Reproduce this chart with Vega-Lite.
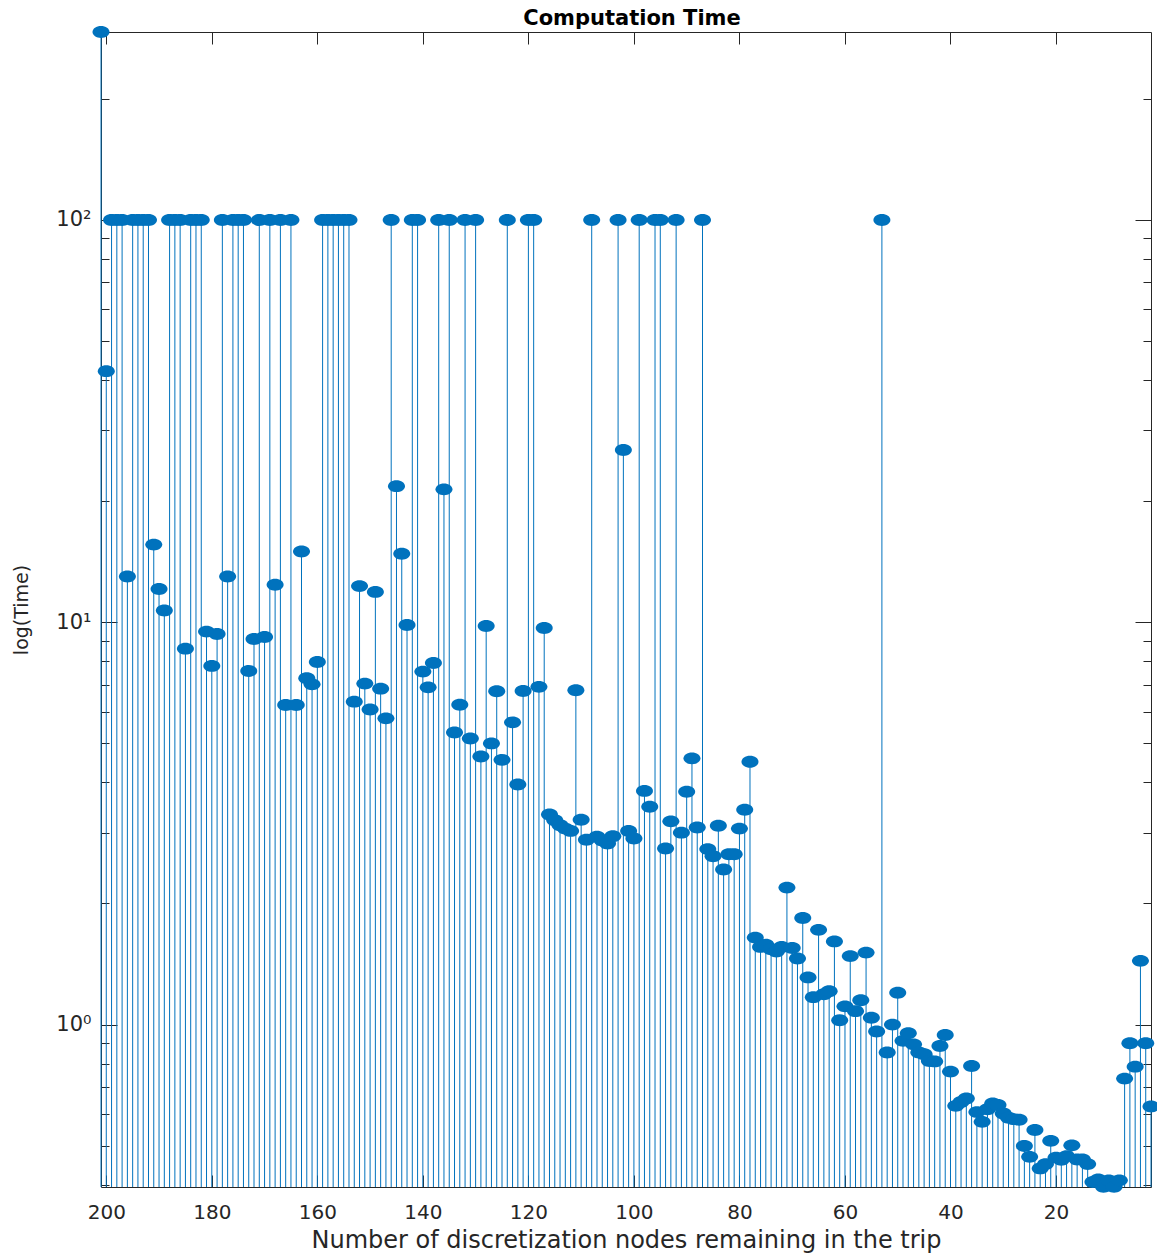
{
 "$schema": "https://vega.github.io/schema/vega-lite/v6.json",
 "width": 1050,
 "height": 1155,
 "autosize": "none",
 "padding": {"left": 101, "top": 32, "right": 6, "bottom": 69},
 "background": "white",
 "title": {"text": "Computation Time", "font": "DejaVu Sans", "fontSize": 21, "fontWeight": "bold", "color": "#000000", "offset": 6, "dy": 9, "anchor": "middle", "frame": "group", "dx": 6},
 "config": {
  "view": {"stroke": null},
  "axis": {"grid": false, "domainColor": "#262626", "domainWidth": 1, "tickColor": "#262626", "tickWidth": 1, "labelColor": "#262626", "titleColor": "#262626", "labelFont": "DejaVu Sans", "titleFont": "DejaVu Sans", "titleFontWeight": "normal", "labelFlush": false}
 },
 "data": {"values": [
  {"n":201,"t":293.3},{"n":200,"t":42.1},{"n":199,"t":100},{"n":198,"t":100},{"n":197,"t":100},{"n":196,"t":13.0},{"n":195,"t":100},{"n":194,"t":100},{"n":193,"t":100},{"n":192,"t":100},
  {"n":191,"t":15.6},{"n":190,"t":12.1},{"n":189,"t":10.7},{"n":188,"t":100},{"n":187,"t":100},{"n":186,"t":100},{"n":185,"t":8.6},{"n":184,"t":100},{"n":183,"t":100},{"n":182,"t":100},
  {"n":181,"t":9.48},{"n":180,"t":7.79},{"n":179,"t":9.35},{"n":178,"t":100},{"n":177,"t":13.0},{"n":176,"t":100},{"n":175,"t":100},{"n":174,"t":100},{"n":173,"t":7.57},{"n":172,"t":9.09},
  {"n":171,"t":100},{"n":170,"t":9.19},{"n":169,"t":100},{"n":168,"t":12.4},{"n":167,"t":100},{"n":166,"t":6.23},{"n":165,"t":100},{"n":164,"t":6.23},{"n":163,"t":15.0},{"n":162,"t":7.26},
  {"n":161,"t":7.01},{"n":160,"t":7.97},{"n":159,"t":100},{"n":158,"t":100},{"n":157,"t":100},{"n":156,"t":100},{"n":155,"t":100},{"n":154,"t":100},{"n":153,"t":6.35},{"n":152,"t":12.3},
  {"n":151,"t":7.04},{"n":150,"t":6.07},{"n":149,"t":11.9},{"n":148,"t":6.84},{"n":147,"t":5.77},{"n":146,"t":100},{"n":145,"t":21.8},{"n":144,"t":14.8},{"n":143,"t":9.85},{"n":142,"t":100},
  {"n":141,"t":100},{"n":140,"t":7.54},{"n":139,"t":6.89},{"n":138,"t":7.92},{"n":137,"t":100},{"n":136,"t":21.4},{"n":135,"t":100},{"n":134,"t":5.32},{"n":133,"t":6.24},{"n":132,"t":100},
  {"n":131,"t":5.14},{"n":130,"t":100},{"n":129,"t":4.64},{"n":128,"t":9.79},{"n":127,"t":5.0},{"n":126,"t":6.74},{"n":125,"t":4.55},{"n":124,"t":100},{"n":123,"t":5.64},{"n":122,"t":3.95},
  {"n":121,"t":6.75},{"n":120,"t":100},{"n":119,"t":100},{"n":118,"t":6.91},{"n":117,"t":9.68},{"n":116,"t":3.33},{"n":115,"t":3.22},{"n":114,"t":3.13},{"n":113,"t":3.07},{"n":112,"t":3.03},
  {"n":111,"t":6.78},{"n":110,"t":3.23},{"n":109,"t":2.88},{"n":108,"t":100},{"n":107,"t":2.93},{"n":106,"t":2.87},{"n":105,"t":2.82},{"n":104,"t":2.94},{"n":103,"t":100},{"n":102,"t":26.8},
  {"n":101,"t":3.03},{"n":100,"t":2.9},{"n":99,"t":100},{"n":98,"t":3.81},{"n":97,"t":3.48},{"n":96,"t":100},{"n":95,"t":100},{"n":94,"t":2.74},{"n":93,"t":3.2},{"n":92,"t":100},
  {"n":91,"t":3.0},{"n":90,"t":3.79},{"n":89,"t":4.59},{"n":88,"t":3.09},{"n":87,"t":100},{"n":86,"t":2.73},{"n":85,"t":2.62},{"n":84,"t":3.12},{"n":83,"t":2.43},{"n":82,"t":2.65},
  {"n":81,"t":2.65},{"n":80,"t":3.07},{"n":79,"t":3.42},{"n":78,"t":4.5},{"n":77,"t":1.645},{"n":76,"t":1.56},{"n":75,"t":1.58},{"n":74,"t":1.54},{"n":73,"t":1.52},{"n":72,"t":1.56},
  {"n":71,"t":2.19},{"n":70,"t":1.55},{"n":69,"t":1.46},{"n":68,"t":1.84},{"n":67,"t":1.31},{"n":66,"t":1.17},{"n":65,"t":1.72},{"n":64,"t":1.19},{"n":63,"t":1.21},{"n":62,"t":1.61},
  {"n":61,"t":1.025},{"n":60,"t":1.11},{"n":59,"t":1.48},{"n":58,"t":1.08},{"n":57,"t":1.15},{"n":56,"t":1.51},{"n":55,"t":1.04},{"n":54,"t":0.961},{"n":53,"t":100},{"n":52,"t":0.852},
  {"n":51,"t":1.0},{"n":50,"t":1.2},{"n":49,"t":0.911},{"n":48,"t":0.952},{"n":47,"t":0.893},{"n":46,"t":0.852},{"n":45,"t":0.844},{"n":44,"t":0.812},{"n":43,"t":0.81},{"n":42,"t":0.885},
  {"n":41,"t":0.942},{"n":40,"t":0.764},{"n":39,"t":0.628},{"n":38,"t":0.642},{"n":37,"t":0.655},{"n":36,"t":0.789},{"n":35,"t":0.606},{"n":34,"t":0.573},{"n":33,"t":0.616},{"n":32,"t":0.637},
  {"n":31,"t":0.631},{"n":30,"t":0.601},{"n":29,"t":0.587},{"n":28,"t":0.582},{"n":27,"t":0.58},{"n":26,"t":0.499},{"n":25,"t":0.469},{"n":24,"t":0.547},{"n":23,"t":0.439},{"n":22,"t":0.45},
  {"n":21,"t":0.514},{"n":20,"t":0.467},{"n":19,"t":0.461},{"n":18,"t":0.471},{"n":17,"t":0.501},{"n":16,"t":0.462},{"n":15,"t":0.462},{"n":14,"t":0.45},{"n":13,"t":0.406},{"n":12,"t":0.412},
  {"n":11,"t":0.395},{"n":10,"t":0.41},{"n":9,"t":0.395},{"n":8,"t":0.41},{"n":7,"t":0.734},{"n":6,"t":0.899},{"n":5,"t":0.786},{"n":4,"t":1.44},{"n":3,"t":0.899},{"n":2,"t":0.626}
 ]},
 "resolve": {"axis": {"x": "independent", "y": "independent"}},
 "layer": [
  {
   "mark": {"type": "rule", "color": "#0072BD", "strokeWidth": 1},
   "encoding": {
    "x": {"field": "n", "type": "quantitative", "scale": {"domain": [2, 201], "reverse": true, "nice": false, "zero": false},
     "axis": {"orient": "bottom", "values": [20,40,60,80,100,120,140,160,180,200], "format": "d", "ticks": false, "domain": true, "labelFontSize": 20, "labelPadding": 15, "title": "Number of discretization nodes remaining in the trip", "titleFontSize": 24, "titlePadding": 6}},
    "y": {"field": "t", "type": "quantitative", "scale": {"type": "log", "domain": [0.3947, 293.3], "nice": false},
     "axis": {"orient": "left", "values": [1, 10, 100], "labelExpr": "datum.value < 5 ? '10⁰' : datum.value < 50 ? '10¹' : '10²'", "ticks": false, "domain": true, "labelFontSize": 21, "labelPadding": 10, "title": "log(Time)", "titleFontSize": 19, "titlePadding": 24}},
    "y2": {"datum": 0.3947}
   }
  },
  {
   "mark": {"type": "point", "shape": "M -1 0 C -1 -0.3866 -0.5523 -0.7 0 -0.7 C 0.5523 -0.7 1 -0.3866 1 0 C 1 0.3866 0.5523 0.7 0 0.7 C -0.5523 0.7 -1 0.3866 -1 0 Z", "size": 289, "filled": true, "color": "#0072BD", "opacity": 1, "strokeWidth": 0},
   "encoding": {
    "x": {"field": "n", "type": "quantitative", "scale": {"domain": [2, 201], "reverse": true, "nice": false, "zero": false},
     "axis": {"orient": "bottom", "values": [20,40,60,80,100,120,140,160,180,200], "labels": false, "domain": false, "ticks": true, "tickSize": -12, "title": null}},
    "y": {"field": "t", "type": "quantitative", "scale": {"type": "log", "domain": [0.3947, 293.3], "nice": false},
     "axis": {"orient": "left", "values": [1, 10, 100], "labels": false, "domain": false, "ticks": true, "tickSize": -16, "title": null}}
   }
  },
  {
   "mark": {"type": "point", "opacity": 0},
   "encoding": {
    "x": {"field": "n", "type": "quantitative", "scale": {"domain": [2, 201], "reverse": true, "nice": false, "zero": false},
     "axis": {"orient": "top", "values": [20,40,60,80,100,120,140,160,180,200], "labels": false, "domain": true, "ticks": true, "tickSize": -12, "title": null}},
    "y": {"field": "t", "type": "quantitative", "scale": {"type": "log", "domain": [0.3947, 293.3], "nice": false},
     "axis": {"orient": "left", "values": [0.4,0.5,0.6,0.7,0.8,0.9,2,3,4,5,6,7,8,9,20,30,40,50,60,70,80,90,200], "labels": false, "domain": false, "ticks": true, "tickSize": -8, "title": null}}
   }
  },
  {
   "mark": {"type": "point", "opacity": 0},
   "encoding": {
    "x": {"field": "n", "type": "quantitative", "scale": {"domain": [2, 201], "reverse": true, "nice": false, "zero": false}, "axis": null},
    "y": {"field": "t", "type": "quantitative", "scale": {"type": "log", "domain": [0.3947, 293.3], "nice": false},
     "axis": {"orient": "right", "values": [1, 10, 100], "labels": false, "domain": true, "ticks": true, "tickSize": -16, "title": null}}
   }
  },
  {
   "mark": {"type": "point", "opacity": 0},
   "encoding": {
    "x": {"field": "n", "type": "quantitative", "scale": {"domain": [2, 201], "reverse": true, "nice": false, "zero": false}, "axis": null},
    "y": {"field": "t", "type": "quantitative", "scale": {"type": "log", "domain": [0.3947, 293.3], "nice": false},
     "axis": {"orient": "right", "values": [0.4,0.5,0.6,0.7,0.8,0.9,2,3,4,5,6,7,8,9,20,30,40,50,60,70,80,90,200], "labels": false, "domain": false, "ticks": true, "tickSize": -8, "title": null}}
   }
  }
 ]
}
